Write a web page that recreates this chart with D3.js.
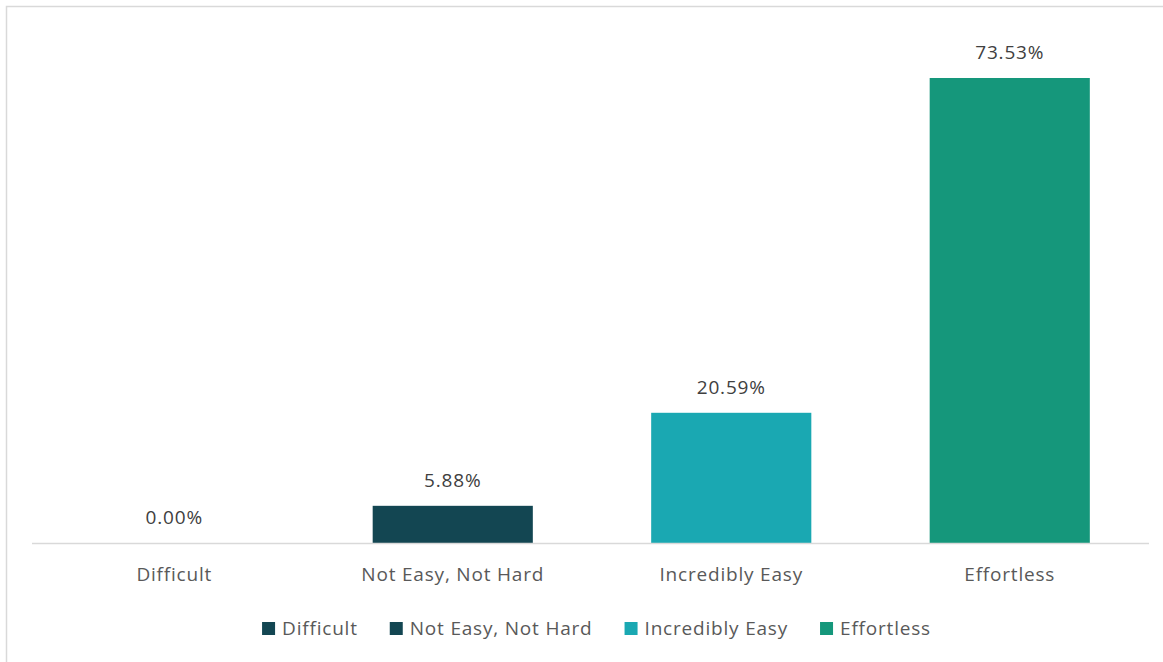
<!DOCTYPE html>
<html>
<head>
<meta charset="utf-8">
<script src="https://cdn.jsdelivr.net/npm/d3@7/dist/d3.min.js"></script>
<style>
  html, body { margin: 0; padding: 0; background: #fff; }
  svg { display: block; }
  text { font-family: "Open Sans", sans-serif; letter-spacing: 0.8px; }
</style>
</head>
<body>
<svg id="chart" width="1163" height="662"></svg>
<script>
// Share of responses per ease rating
const categories = ["Difficult", "Not Easy, Not Hard", "Incredibly Easy", "Effortless"];
const values = [0.00, 5.88, 20.59, 73.53];
const colors = ["#134652", "#134652", "#1aa8b2", "#15977b"];

const W = 1163, H = 662;
const FONT = 19;
const svg = d3.select("#chart");

// chart area frame
svg.append("rect")
  .attr("x", 6.5).attr("y", 6.5)
  .attr("width", W + 10).attr("height", H + 10)
  .attr("fill", "#fff")
  .attr("stroke", "#d9d9d9").attr("stroke-width", 1.5);

const plot = { left: 35, right: 1149, baseline: 543 };

const x = d3.scaleBand()
  .domain(categories)
  .range([plot.left, plot.right])
  .paddingInner(0.425)
  .paddingOuter(0.2125);

const y = d3.scaleLinear()
  .domain([0, 80])
  .range([plot.baseline, plot.baseline - 80 * 6.324]);

// bars
svg.append("g").selectAll("rect")
  .data(categories)
  .join("rect")
  .attr("x", d => x(d))
  .attr("y", (d, i) => y(values[i]))
  .attr("width", x.bandwidth())
  .attr("height", (d, i) => y(0) - y(values[i]))
  .attr("fill", (d, i) => colors[i]);

// category axis
const axis = svg.append("g")
  .attr("transform", `translate(0,${plot.baseline})`)
  .call(d3.axisBottom(x).tickSize(0).tickPadding(25));
axis.select(".domain")
  .attr("d", `M${plot.left - 3},0.5H${plot.right}`)
  .attr("stroke", "#d9d9d9").attr("stroke-width", 1.5);
axis.selectAll(".tick text")
  .attr("font-family", "\"Open Sans\", sans-serif")
  .attr("font-size", FONT)
  .attr("fill", "#595959");

// value labels
svg.append("g").selectAll("text")
  .data(categories)
  .join("text")
  .attr("x", d => x(d) + x.bandwidth() / 2)
  .attr("y", (d, i) => y(values[i]) - 19)
  .attr("text-anchor", "middle")
  .attr("font-size", FONT)
  .attr("fill", "#404040")
  .text((d, i) => values[i].toFixed(2) + "%");

// legend
const legend = svg.append("g");
const items = legend.selectAll("g")
  .data(categories)
  .join("g");
items.append("rect")
  .attr("width", 13).attr("height", 13)
  .attr("y", -6)
  .attr("fill", (d, i) => colors[i]);
items.append("text")
  .attr("x", 20)
  .attr("dy", "0.35em")
  .attr("font-size", FONT)
  .attr("fill", "#595959")
  .text(d => d);
const gap = 32;
const widths = items.nodes().map(n => n.getBBox().width);
const total = d3.sum(widths) + gap * (widths.length - 1);
let cx = 596.5 - total / 2;
items.attr("transform", (d, i) => {
  const t = `translate(${cx},628)`;
  cx += widths[i] + gap;
  return t;
});
</script>
</body>
</html>
